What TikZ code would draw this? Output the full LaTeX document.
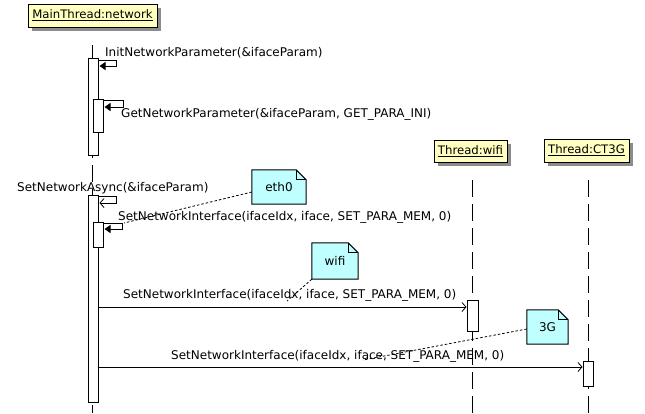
\documentclass[tikz,border=0pt]{standalone}
\usepackage{fontspec}
\setmainfont{DejaVu Sans}
\usetikzlibrary{arrows.meta,shadows,calc,backgrounds}
\definecolor{hdrc}{RGB}{255,255,192}
\definecolor{notec}{RGB}{192,255,255}
\newcommand{\fs}{\fontsize{12}{14}\selectfont}
\newcommand{\fh}{\fontsize{11.7}{14}\selectfont}
\tikzset{
  hdr/.style={draw, fill=hdrc, line width=1pt, inner sep=0pt, font=\fh,
    drop shadow={shadow xshift=4pt, shadow yshift=-4pt, fill=black!45, opacity=1}},
  lifeline/.style={line width=1pt, dash pattern=on 17pt off 7pt},
  act/.style={draw, fill=white, line width=1pt, minimum width=10pt, inner sep=0pt},
  msg/.style={line width=1pt},
  sync/.style={msg, -{Triangle[length=6pt,width=8pt]}},
  async/.style={msg, -{Straight Barb[length=4pt,width=9pt,line width=0.8pt]}},
  lbl/.style={anchor=base west, inner sep=0pt, font=\fs},
  notetxt/.style={inner sep=0pt, font=\fs},
  leader/.style={line width=0.8pt, dash pattern=on 2.5pt off 2pt},
}
\begin{document}
\begin{tikzpicture}[x=1pt,y=-1pt]
\useasboundingbox (0,0) rectangle (645,413);
% headers
\node[hdr, minimum width=129pt, minimum height=23pt] (mt) at (92.5,15.5) {\underline{MainThread:network}};
\node[hdr, minimum width=73pt, minimum height=22pt] (wf) at (470.5,151) {\underline{Thread:wifi}};
\node[hdr, minimum width=85pt, minimum height=23pt] (ct) at (586.5,150.5) {\underline{Thread:CT3G}};
% lifelines
\coordinate (l0t) at (92,45);
\coordinate (l0b) at (92,413);
\coordinate (l1t) at (472,180);
\coordinate (l1b) at (472,413);
\coordinate (l2t) at (588,180);
\coordinate (l2b) at (588,413);
\draw[lifeline] (l0t) -- (l0b);
\draw[lifeline] (l1t) -- (l1b);
\draw[lifeline] (l2t) -- (l2b);
% activations
\node[act, minimum height=97pt] (a1) at (93,106.5) {};
\node[act, minimum height=33pt] (a2) at (98,115.5) {};
\node[act, minimum height=207pt] (a3) at (93,298.5) {};
\node[act, minimum height=25pt] (a4) at (98,234.5) {};
\node[act, minimum width=11pt, minimum height=31pt] (a5) at (472.5,315.5) {};
\node[act, minimum height=25pt] (a6) at (588,373.5) {};
% self messages
\draw[sync] (a1.east |- 0,60) -- (116,60) -- (116,66) -- ($(a1.east |- 0,66)+(1,0)$);
\node[lbl] (t1) at (105,56) {InitNetworkParameter(\&ifaceParam)};
\draw[sync] (a2.east |- 0,100) -- (123,100) -- (123,107) -- ($(a2.east |- 0,107)+(1,0)$);
\node[lbl] (t2) at (121,117) {GetNetworkParameter(\&ifaceParam, GET\_PARA\_INI)};
\draw[async] (a3.east |- 0,196) -- (116,196) -- (116,203) -- ($(a3.east |- 0,203)+(1,0)$);
\node[lbl] (t3) at (17,191) {SetNetworkAsync(\&ifaceParam)};
\draw[sync] (a4.east |- 0,223) -- (122,223) -- (122,229) -- ($(a4.east |- 0,229)+(1,0)$);
\node[lbl] (t4) at (118,220) {SetNetworkInterface(ifaceIdx, iface, SET\_PARA\_MEM, 0)};
% messages
\draw[async] (a3.east |- 0,307) -- (a5.west |- 0,307);
\node[lbl] (t5) at (123,298) {SetNetworkInterface(ifaceIdx, iface, SET\_PARA\_MEM, 0)};
\draw[async] (a3.east |- 0,367) -- (a6.west |- 0,367);
\node[lbl] (t6) at (171,359) {SetNetworkInterface(ifaceIdx, iface, SET\_PARA\_MEM, 0)};
% notes
\node[notetxt, minimum width=54pt, minimum height=34pt] (n1) at (279,187) {eth0};
\node[notetxt, minimum width=46pt, minimum height=36pt] (n2) at (335,261) {wifi};
\node[notetxt, minimum width=41pt, minimum height=34pt] (n3) at (547.5,327) {3G};
\begin{scope}[on background layer]
\foreach \n in {n1,n2,n3}{
  \draw[fill=notec, line width=1pt] (\n.south west) -- (\n.north west) -- ($(\n.north east)+(-10,0)$) -- ($(\n.north east)+(0,10)$) -- (\n.south east) -- cycle;
  \draw[line width=0.8pt] ($(\n.north east)+(-10,0)$) -- ($(\n.north east)+(-10,10)$) -- ($(\n.north east)+(0,10)$);
}
\end{scope}
% leaders
\coordinate (e1) at (124,223);
\coordinate (e2) at (287,301);
\coordinate (e3) at (363,360);
\draw[leader] (n1.west |- 0,192) -- (e1);
\draw[leader] (n2.south west) -- (e2);
\draw[leader] (n3.west |- 0,329) -- (e3);
\end{tikzpicture}
\end{document}
